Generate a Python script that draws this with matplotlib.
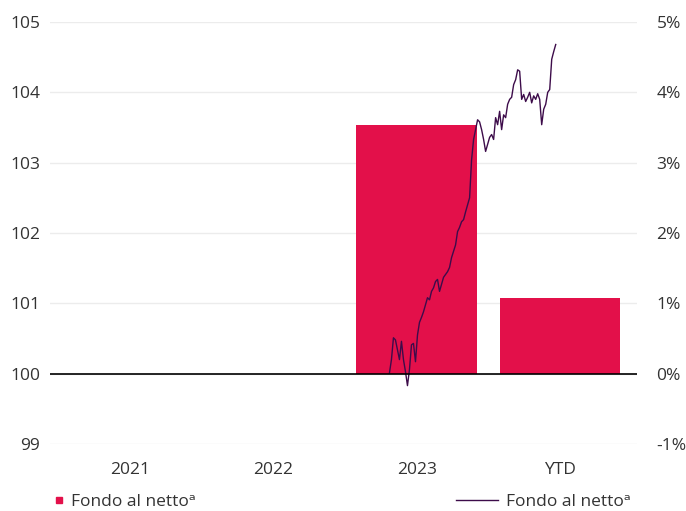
import numpy as np
import matplotlib
matplotlib.use("Agg")
import matplotlib.pyplot as plt
from matplotlib.lines import Line2D

plt.rcParams['font.family'] = ['Open Sans', 'DejaVu Sans']

# dati
categorie = ["2021", "2022", "2023", "YTD"]
rend_pct = [0.0, 0.0, 3.54, 1.08]          # barre, asse destro (%)
indice = [100.01, 100.20, 100.51, 100.48, 100.34, 100.20, 100.46, 100.20, 100.03, 99.83,
          100.06, 100.41, 100.43, 100.17, 100.55, 100.73, 100.80, 100.88, 100.98, 101.08,
          101.05, 101.17, 101.22, 101.31, 101.34, 101.17, 101.27, 101.37, 101.41, 101.45,
          101.51, 101.65, 101.74, 101.83, 102.02, 102.08, 102.16, 102.19, 102.30, 102.40,
          102.50, 103.04, 103.33, 103.47, 103.61, 103.58, 103.47, 103.33, 103.16, 103.26,
          103.36, 103.40, 103.33, 103.64, 103.54, 103.73, 103.47, 103.68, 103.64, 103.83,
          103.90, 103.93, 104.11, 104.18, 104.32, 104.30, 103.90, 103.97, 103.87, 103.93,
          104.00, 103.85, 103.95, 103.90, 103.98, 103.90, 103.54, 103.76, 103.83, 104.00,
          104.04, 104.47, 104.58, 104.68]
sx_ticks = [99, 100, 101, 102, 103, 104, 105]
dx_ticks = [-1, 0, 1, 2, 3, 4, 5]

rosso = '#e3104a'
viola = '#3d0c4a'
testo = '#333333'
fs = 12.5

fig = plt.figure(figsize=(6.86, 5.11), dpi=100)
ax = fig.add_axes([50/686, 1 - 444/511, 587/686, 422/511])
ax2 = ax.twinx()

x = np.arange(len(categorie))
ax2.bar(x, rend_pct, width=0.84, color=rosso, zorder=2)
ax2.set_ylim(-1, 5)
ax2.set_yticks(dx_ticks)
ax2.set_yticklabels([f"{t}%" for t in dx_ticks])
ax2.yaxis.grid(True, color='#ececec', linewidth=1, zorder=0)
ax2.set_axisbelow(True)

# linea indice sopra le barre
ax.set_zorder(ax2.get_zorder() + 1)
ax.patch.set_visible(False)
line_x = np.linspace(1.81, 2.97, len(indice))
ax.plot(line_x, indice, color=viola, linewidth=1.0)
ax.axhline(100, color='black', linewidth=1.2)
ax.set_ylim(99, 105)
ax.set_yticks(sx_ticks)
ax.set_xlim(-0.558, 3.537)
ax.set_xticks(x)
ax.set_xticklabels(categorie)

for a in (ax, ax2):
    for s in a.spines.values():
        s.set_visible(False)
    a.tick_params(length=0, labelsize=fs, labelcolor=testo)
ax.tick_params(axis='x', pad=13)
ax.tick_params(axis='y', pad=7)
ax2.tick_params(axis='y', pad=14)

h1 = Line2D([], [], color=rosso, marker='s', markersize=4, linestyle='none')
h2 = Line2D([], [], color=viola, linewidth=1.0)
fig.legend([h1], ["Fondo al nettoᵃ"], loc='lower left', bbox_to_anchor=(0.065, -0.018),
           frameon=False, fontsize=fs, handlelength=0.5, handletextpad=0.4,
           borderaxespad=0.2, labelcolor=testo)
fig.legend([h2], ["Fondo al nettoᵃ"], loc='lower right', bbox_to_anchor=(0.935, -0.018),
           frameon=False, fontsize=fs, handlelength=2.4, handletextpad=0.5,
           borderaxespad=0.2, labelcolor=testo)

fig.savefig("out.png", dpi=100)
